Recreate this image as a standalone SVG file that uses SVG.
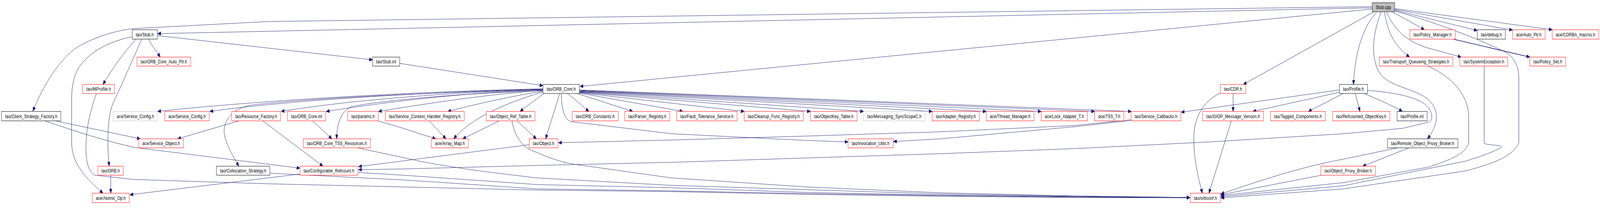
<svg xmlns="http://www.w3.org/2000/svg" width="5360" height="560" viewBox="0 0 5360 560" preserveAspectRatio="none" style="width:100vw;height:100vh;display:block">
<style>
.e{fill:none;stroke:#191970;stroke-width:1;marker-end:url(#arr)}
.n rect{fill:#ffffff;stroke:#ff0000;stroke-width:1}
.n.k rect{stroke:#000000}
.n.g rect{stroke:#bfbfbf}
.n.root rect{fill:#bfbfbf;stroke:#000000}
.n text{font-family:"Liberation Sans",Arial,sans-serif;font-size:13px;fill:#000000;text-anchor:middle}
</style>
<defs>
<marker id="arr" markerUnits="userSpaceOnUse" markerWidth="11" markerHeight="9" refX="11" refY="4.5" orient="auto">
<path d="M0,0 L11,4.5 L0,9 z" fill="#191970" stroke="#191970" stroke-width="1"/>
</marker>
</defs>
<rect x="0" y="0" width="5360" height="560" fill="#ffffff"/>
<g id="edges">
<path class="e" d="M4597,20 L528,86"/>
<path class="e" d="M4597,17 L900,55 L450,73 C380,78 300,100 250,125 C200,155 150,210 110,284"/>
<path class="e" d="M4597,23 L1943,221"/>
<path class="e" d="M4603,30 L4165,216"/>
<path class="e" d="M4612,31 C4575,60 4540,120 4534,216"/>
<path class="e" d="M4627,31 C4595,90 4590,160 4630,195 C4680,232 4790,228 4810,285 C4818,312 4800,338 4782,355"/>
<path class="e" d="M4638,31 C4650,85 4670,115 4722,146"/>
<path class="e" d="M4645,31 C4670,75 4710,105 4780,122 L4895,146"/>
<path class="e" d="M4665,31 C4700,45 4735,60 4772,76"/>
<path class="e" d="M4672,26 L4949,78"/>
<path class="e" d="M4672,24 L5067,77"/>
<path class="e" d="M4672,22 L5200,76"/>
<path class="e" d="M4672,28 C4800,55 4950,98 5040,132 C5075,148 5088,170 5088,200 L5088,365 C5072,395 5020,415 4910,437 L4500,483 L4090,506"/>
<path class="e" style="stroke-width:1.6" d="M4868,100 L5125,146"/>
<path class="e" d="M4972,169 L4972,366 C4975,370 5010,371 5020,372 C5040,375 5030,379 4970,397 L4910,412 L4500,475 L4090,503"/>
<path class="e" d="M4783,169 C4860,195 4920,240 4920,300 L4920,366 C4910,390 4880,403 4787,427 L4500,467 L4090,500"/>
<path class="e" d="M4720,378 L4565,425"/>
<path class="e" d="M4682,378 L4500,407 C4420,418 4300,440 4090,496"/>
<path class="e" d="M4427,448 L4090,498"/>
<path class="e" d="M4125,309 L4050,494"/>
<path class="e" d="M4131,239 L4131,285"/>
<path class="e" d="M4088,238 C4040,255 4005,290 4000,340 C3996,390 4010,445 4028,494"/>
<path class="e" d="M4487,236 L4197,285"/>
<path class="e" d="M4487,230 L3957,287"/>
<path class="e" d="M4500,239 L4383,285"/>
<path class="e" d="M4540,239 L4556,285"/>
<path class="e" d="M4570,239 C4620,256 4660,268 4698,285"/>
<path class="e" d="M4581,231 C4680,237 4760,250 4785,275 C4800,290 4800,308 4787,312 L4700,328 L4500,342 L4050,363 L3600,380 L3150,393 L2700,404 L2250,415 L1800,423 L1350,432 L1201,434"/>
<path class="e" d="M3790,308 L3600,324 L3150,355 L2993,362"/>
<path class="e" d="M3790,306 L3600,321 L3150,337 L2700,348 L2250,358 L1871,365"/>
<path class="e" d="M1880,239 C1882,280 1890,305 1912,311 L2250,342 L2700,359 L2841,363"/>
<path class="e" d="M1875,239 L1828,355"/>
<path class="e" d="M1900,239 C1930,255 1945,268 1973,285"/>
<path class="e" d="M1933,239 L2120,285"/>
<path class="e" d="M1941,238 L2288,285"/>
<path class="e" d="M1941,237 L2493,285"/>
<path class="e" d="M1941,236 L2715,285"/>
<path class="e" d="M1941,235 L2893,285"/>
<path class="e" d="M1941,234 L3123,285"/>
<path class="e" d="M1941,233 L3304,285"/>
<path class="e" d="M1941,232 L3488,285"/>
<path class="e" d="M1941,231 L3667,285"/>
<path class="e" d="M1941,230 L3790,285"/>
<path class="e" d="M1819,227 C1300,236 800,262 528,285"/>
<path class="e" d="M1819,228 C1400,236 950,258 703,285"/>
<path class="e" d="M1819,229 C1500,236 1150,258 942,285"/>
<path class="e" d="M1819,230 C1550,237 1300,260 1093,285"/>
<path class="e" d="M1819,231 C1650,240 1450,262 1268,285"/>
<path class="e" d="M1819,233 C1720,245 1600,265 1500,285"/>
<path class="e" d="M1822,239 L1742,285"/>
<path class="e" d="M1819,235 C1700,262 1580,300 1520,355"/>
<path class="e" d="M1819,232 C1500,240 1250,260 1177,273 C1140,285 1128,320 1128,355"/>
<path class="e" d="M1819,229 C1300,240 1000,255 850,268 C765,276 745,320 752,345 C760,375 785,405 800,425"/>
<path class="e" d="M1673,309 L1550,355"/>
<path class="e" d="M1732,309 L1797,355"/>
<path class="e" d="M1715,309 C1725,350 1750,380 1800,390 C1850,408 1900,418 1933,421 L2250,455 L2700,478 L3150,493 L3600,501 L3986,505"/>
<path class="e" d="M1438,309 L1494,355"/>
<path class="e" d="M1267,309 L1350,328 L1460,355"/>
<path class="e" d="M800,309 L595,355"/>
<path class="e" d="M880,309 L1082,425"/>
<path class="e" d="M1047,309 L1112,355"/>
<path class="e" d="M1773,370 L1201,426"/>
<path class="e" d="M185,309 L470,355"/>
<path class="e" d="M150,309 C250,335 350,360 450,377 L900,420 L1005,430"/>
<path class="e" d="M1005,445 L435,498"/>
<path class="e" d="M371,448 L371,494"/>
<path class="e" d="M443,94 C370,105 300,130 262,175 C240,205 240,240 240,260 L240,367 C242,410 270,445 345,494"/>
<path class="e" d="M456,100 C420,130 380,170 345,216"/>
<path class="e" d="M475,100 C440,160 400,230 377,267 C360,300 358,370 366,425"/>
<path class="e" d="M497,100 C510,118 525,132 537,146"/>
<path class="e" d="M527,91 L1248,153"/>
<path class="e" d="M1339,162 L1819,219"/>
<path class="e" d="M323,239 C300,290 288,330 288,380 C288,420 300,440 317,448 L450,459 L900,470 L1350,478 L1800,486 L2250,490 L2700,497 L3150,502 L3600,505 L3986,506"/>
<path class="e" d="M905,443 L1350,460 L1800,483 L2250,488 L2700,495 L3150,500 L3600,504 L3986,505"/>
<path class="e" d="M1199,441 L1350,448 L1800,472 L2250,480 L2700,492 L3150,499 L3600,503 L3986,505"/>
<path class="e" d="M1198,378 L1350,403 C1450,420 1550,433 1800,455 L2250,474 L2700,485 L3150,496 L3600,502 L3986,505"/>
</g>
<g id="stub_cpp" class="n root"><rect x="4597" y="7" width="75" height="23"/><text x="4634.5" y="23.5" textLength="51" lengthAdjust="spacing">Stub.cpp</text></g>
<g id="stub_h" class="n k"><rect x="443" y="76" width="84" height="24"/><text x="485" y="93" textLength="60" lengthAdjust="spacing">tao/Stub.h</text></g>
<g id="policy_manager_h" class="n"><rect x="4723" y="76" width="152" height="24"/><text x="4799" y="93" textLength="128" lengthAdjust="spacing">tao/Policy_Manager.h</text></g>
<g id="debug_h" class="n k"><rect x="4949" y="76" width="94" height="24"/><text x="4996" y="93" textLength="70" lengthAdjust="spacing">tao/debug.h</text></g>
<g id="auto_ptr_h" class="n"><rect x="5067" y="76" width="109" height="24"/><text x="5121.5" y="93" textLength="85" lengthAdjust="spacing">ace/Auto_Ptr.h</text></g>
<g id="corba_macros_h" class="n"><rect x="5200" y="76" width="156" height="24"/><text x="5278" y="93" textLength="132" lengthAdjust="spacing">ace/CORBA_macros.h</text></g>
<g id="orb_core_auto_ptr_h" class="n"><rect x="459" y="146" width="180" height="23"/><text x="549" y="162.5" textLength="156" lengthAdjust="spacing">tao/ORB_Core_Auto_Ptr.h</text></g>
<g id="stub_inl" class="n k"><rect x="1248" y="146" width="91" height="23"/><text x="1293.5" y="162.5" textLength="67" lengthAdjust="spacing">tao/Stub.inl</text></g>
<g id="transport_queueing_strategies_h" class="n"><rect x="4621" y="146" width="246" height="23"/><text x="4744" y="162.5" textLength="222" lengthAdjust="spacing">tao/Transport_Queueing_Strategies.h</text></g>
<g id="systemexception_h" class="n"><rect x="4891" y="146" width="160" height="23"/><text x="4971" y="162.5" textLength="136" lengthAdjust="spacing">tao/SystemException.h</text></g>
<g id="policy_set_h" class="n"><rect x="5125" y="146" width="120" height="23"/><text x="5185" y="162.5" textLength="96" lengthAdjust="spacing">tao/Policy_Set.h</text></g>
<g id="mprofile_h" class="n"><rect x="277" y="216" width="107" height="23"/><text x="330.5" y="232.5" textLength="83" lengthAdjust="spacing">tao/MProfile.h</text></g>
<g id="orb_core_h" class="n k"><rect x="1819" y="216" width="122" height="23"/><text x="1880" y="232.5" textLength="98" lengthAdjust="spacing">tao/ORB_Core.h</text></g>
<g id="cdr_h" class="n"><rect x="4088" y="216" width="85" height="23"/><text x="4130.5" y="232.5" textLength="61" lengthAdjust="spacing">tao/CDR.h</text></g>
<g id="profile_h" class="n k"><rect x="4487" y="216" width="94" height="23"/><text x="4534" y="232.5" textLength="70" lengthAdjust="spacing">tao/Profile.h</text></g>
<g id="client_strategy_factory_h" class="n k"><rect x="5" y="285" width="199" height="24"/><text x="104.5" y="302" textLength="175" lengthAdjust="spacing">tao/Client_Strategy_Factory.h</text></g>
<g id="service_config_h_grey" class="n g"><rect x="379" y="285" width="149" height="24"/><text x="453.5" y="302" textLength="125" lengthAdjust="spacing">ace/Service_Config.h</text></g>
<g id="service_config_h" class="n"><rect x="552" y="285" width="149" height="24"/><text x="626.5" y="302" textLength="125" lengthAdjust="spacing">ace/Service_Config.h</text></g>
<g id="resource_factory_h" class="n"><rect x="776" y="285" width="164" height="24"/><text x="858" y="302" textLength="140" lengthAdjust="spacing">tao/Resource_Factory.h</text></g>
<g id="orb_core_inl" class="n"><rect x="963" y="285" width="128" height="24"/><text x="1027" y="302" textLength="104" lengthAdjust="spacing">tao/ORB_Core.inl</text></g>
<g id="params_h" class="n"><rect x="1165" y="285" width="102" height="24"/><text x="1216" y="302" textLength="78" lengthAdjust="spacing">tao/params.h</text></g>
<g id="service_context_handler_registry_h" class="n"><rect x="1291" y="285" width="264" height="24"/><text x="1423" y="302" textLength="240" lengthAdjust="spacing">tao/Service_Context_Handler_Registry.h</text></g>
<g id="object_ref_table_h" class="n"><rect x="1629" y="285" width="163" height="24"/><text x="1710.5" y="302" textLength="139" lengthAdjust="spacing">tao/Object_Ref_Table.h</text></g>
<g id="orb_constants_h" class="n"><rect x="1917" y="285" width="154" height="24"/><text x="1994" y="302" textLength="130" lengthAdjust="spacing">tao/ORB_Constants.h</text></g>
<g id="parser_registry_h" class="n"><rect x="2093" y="285" width="151" height="24"/><text x="2168.5" y="302" textLength="127" lengthAdjust="spacing">tao/Parser_Registry.h</text></g>
<g id="fault_tolerance_service_h" class="n"><rect x="2267" y="285" width="202" height="24"/><text x="2368" y="302" textLength="178" lengthAdjust="spacing">tao/Fault_Tolerance_Service.h</text></g>
<g id="cleanup_func_registry_h" class="n"><rect x="2493" y="285" width="198" height="24"/><text x="2592" y="302" textLength="174" lengthAdjust="spacing">tao/Cleanup_Func_Registry.h</text></g>
<g id="objectkey_table_h" class="n"><rect x="2715" y="285" width="156" height="24"/><text x="2793" y="302" textLength="132" lengthAdjust="spacing">tao/ObjectKey_Table.h</text></g>
<g id="messaging_syncscopec_h" class="n g"><rect x="2893" y="285" width="206" height="24"/><text x="2996" y="302" textLength="182" lengthAdjust="spacing">tao/Messaging_SyncScopeC.h</text></g>
<g id="adapter_registry_h" class="n"><rect x="3123" y="285" width="158" height="24"/><text x="3202" y="302" textLength="134" lengthAdjust="spacing">tao/Adapter_Registry.h</text></g>
<g id="thread_manager_h" class="n"><rect x="3304" y="285" width="160" height="24"/><text x="3384" y="302" textLength="136" lengthAdjust="spacing">ace/Thread_Manager.h</text></g>
<g id="lock_adapter_t_h" class="n"><rect x="3488" y="285" width="155" height="24"/><text x="3565.5" y="302" textLength="131" lengthAdjust="spacing">ace/Lock_Adapter_T.h</text></g>
<g id="tss_t_h" class="n"><rect x="3667" y="285" width="98" height="24"/><text x="3716" y="302" textLength="74" lengthAdjust="spacing">ace/TSS_T.h</text></g>
<g id="service_callbacks_h" class="n"><rect x="3789" y="285" width="167" height="24"/><text x="3872.5" y="302" textLength="143" lengthAdjust="spacing">tao/Service_Callbacks.h</text></g>
<g id="giop_message_version_h" class="n"><rect x="4029" y="285" width="204" height="24"/><text x="4131" y="302" textLength="180" lengthAdjust="spacing">tao/GIOP_Message_Version.h</text></g>
<g id="tagged_components_h" class="n"><rect x="4256" y="285" width="184" height="24"/><text x="4348" y="302" textLength="160" lengthAdjust="spacing">tao/Tagged_Components.h</text></g>
<g id="refcounted_objectkey_h" class="n"><rect x="4464" y="285" width="192" height="24"/><text x="4560" y="302" textLength="168" lengthAdjust="spacing">tao/Refcounted_ObjectKey.h</text></g>
<g id="profile_inl" class="n k"><rect x="4680" y="285" width="101" height="24"/><text x="4730.5" y="302" textLength="77" lengthAdjust="spacing">tao/Profile.inl</text></g>
<g id="service_object_h" class="n"><rect x="465" y="355" width="150" height="23"/><text x="540" y="371.5" textLength="126" lengthAdjust="spacing">ace/Service_Object.h</text></g>
<g id="orb_core_tss_resources_h" class="n"><rect x="1016" y="355" width="225" height="23"/><text x="1128.5" y="371.5" textLength="201" lengthAdjust="spacing">tao/ORB_Core_TSS_Resources.h</text></g>
<g id="array_map_h" class="n"><rect x="1445" y="355" width="124" height="23"/><text x="1507" y="371.5" textLength="100" lengthAdjust="spacing">ace/Array_Map.h</text></g>
<g id="object_h" class="n"><rect x="1773" y="355" width="96" height="23"/><text x="1821" y="371.5" textLength="72" lengthAdjust="spacing">tao/Object.h</text></g>
<g id="invocation_utils_h" class="n"><rect x="2841" y="355" width="151" height="23"/><text x="2916.5" y="371.5" textLength="127" lengthAdjust="spacing">tao/Invocation_Utils.h</text></g>
<g id="remote_object_proxy_broker_h" class="n k"><rect x="4648" y="355" width="236" height="23"/><text x="4766" y="371.5" textLength="212" lengthAdjust="spacing">tao/Remote_Object_Proxy_Broker.h</text></g>
<g id="orb_h" class="n"><rect x="328" y="425" width="85" height="23"/><text x="370.5" y="441.5" textLength="61" lengthAdjust="spacing">tao/ORB.h</text></g>
<g id="collocation_strategy_h" class="n k"><rect x="725" y="425" width="179" height="23"/><text x="814.5" y="441.5" textLength="155" lengthAdjust="spacing">tao/Collocation_Strategy.h</text></g>
<g id="configurable_refcount_h" class="n"><rect x="1005" y="425" width="194" height="23"/><text x="1102" y="441.5" textLength="170" lengthAdjust="spacing">tao/Configurable_Refcount.h</text></g>
<g id="object_proxy_broker_h" class="n"><rect x="4425" y="425" width="183" height="23"/><text x="4516.5" y="441.5" textLength="159" lengthAdjust="spacing">tao/Object_Proxy_Broker.h</text></g>
<g id="atomic_op_h" class="n"><rect x="309" y="494" width="124" height="24"/><text x="371" y="511" textLength="100" lengthAdjust="spacing">ace/Atomic_Op.h</text></g>
<g id="orbconf_h" class="n"><rect x="3988" y="494" width="101" height="24"/><text x="4038.5" y="511" textLength="77" lengthAdjust="spacing">tao/orbconf.h</text></g>
</svg>
